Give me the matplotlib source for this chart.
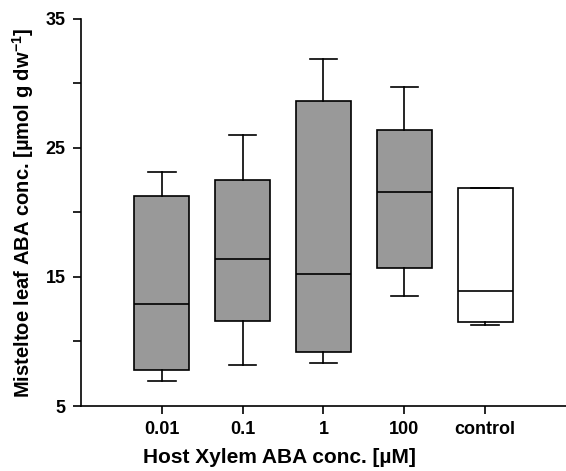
import matplotlib
matplotlib.use("Agg")
import matplotlib.pyplot as plt

# data
groups = ["0.01", "0.1", "1", "100", "control"]
whislo = [6.9, 8.2, 8.3, 13.5, 11.3]
q1 = [7.8, 11.6, 9.2, 15.7, 11.5]
med = [12.9, 16.4, 15.2, 21.6, 13.9]
q3 = [21.3, 22.5, 28.6, 26.4, 21.9]
whishi = [23.1, 26.0, 31.9, 29.7, 21.9]
fills = ["#999999", "#999999", "#999999", "#999999", "#ffffff"]

plt.rcParams['font.family'] = ['Liberation Sans', 'DejaVu Sans']
plt.rcParams['font.weight'] = 'bold'
plt.rcParams['mathtext.fontset'] = 'custom'
plt.rcParams['mathtext.bf'] = 'Liberation Sans:bold'

fig = plt.figure(figsize=(5.66, 4.71), dpi=100)
ax = fig.add_axes([0.143, 0.138, 0.857, 0.822])

stats = []
for i in range(len(groups)):
    stats.append({'whislo': whislo[i], 'q1': q1[i], 'med': med[i],
                  'q3': q3[i], 'whishi': whishi[i], 'fliers': [],
                  'label': groups[i]})

lw = 1.2
bp = ax.bxp(stats, positions=range(1, len(groups) + 1), widths=0.68,
            patch_artist=True, showfliers=False,
            boxprops=dict(linewidth=lw, edgecolor='black'),
            medianprops=dict(linewidth=lw, color='black'),
            whiskerprops=dict(linewidth=lw, color='black'),
            capprops=dict(linewidth=lw, color='black'),
            capwidths=0.34)
for patch, c in zip(bp['boxes'], fills):
    patch.set_facecolor(c)

ax.set_xlim(0, 6)
ax.set_ylim(5, 35)
ax.set_yticks([5, 15, 25, 35])
ax.set_yticks([10, 20, 30], minor=True)
ax.tick_params(axis='both', which='both', direction='out', length=6,
               width=1.2, labelsize=13, pad=5)

for s in ['top', 'right']:
    ax.spines[s].set_visible(False)
for s in ['left', 'bottom']:
    ax.spines[s].set_linewidth(1.2)

ax.set_xlabel("Host Xylem ABA conc. [\u00b5M]", fontsize=15, fontweight='bold')
ax.xaxis.set_label_coords(0.41, -0.108)
ax.set_ylabel("Misteltoe leaf ABA conc. [\u00b5mol g dw$^{\\mathbf{-1}}$]",
              fontsize=14.5, fontweight='bold')
ax.yaxis.set_label_coords(-0.093, 0.5)

fig.savefig("out.png", dpi=100)
